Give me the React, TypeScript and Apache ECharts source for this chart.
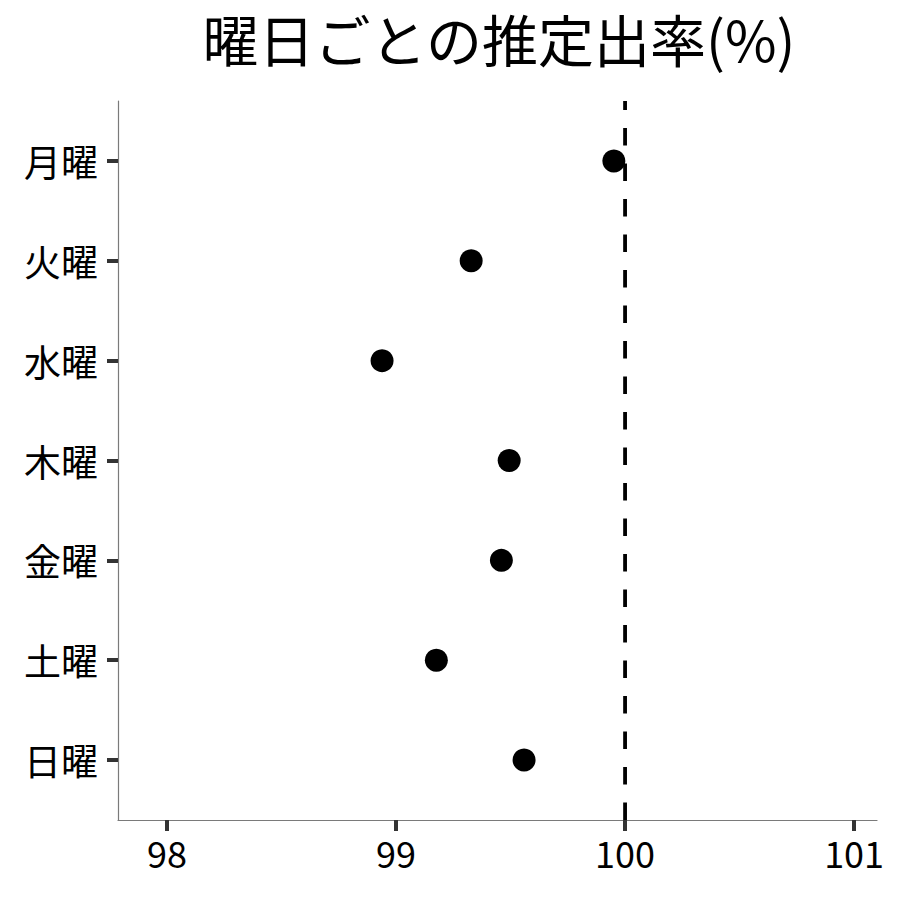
import React, { useEffect, useRef } from "react";
import * as echarts from "echarts";

const days = ["月曜", "火曜", "水曜", "木曜", "金曜", "土曜", "日曜"];
const rates = [99.951, 99.328, 98.939, 99.494, 99.46, 99.176, 99.559];
const xTicks = [98, 99, 100, 101];
const refValue = 100;
const xMin = 97.786;
const xMax = 101.1;
const yMin = 0.4;
const yMax = 7.6;

const FONT = "'Noto Sans CJK JP', 'Noto Sans', sans-serif";

export default function App() {
  const ref = useRef<HTMLDivElement>(null);
  useEffect(() => {
    document.body.style.margin = "0";
    if (!ref.current) return;
    const chart = echarts.init(ref.current, undefined, { renderer: "svg" });
    const yIdx = days.map((_, i) => i + 1);
    chart.setOption({
      animation: false,
      backgroundColor: "#ffffff",
      title: {
        text: "曜日ごとの推定出率(%)",
        left: 494,
        top: 4,
        textAlign: "center",
        textStyle: { fontFamily: FONT, fontSize: 56, fontWeight: "normal", color: "#000" },
      },
      grid: { left: 118, right: 23, top: 101, bottom: 80, containLabel: false },
      xAxis: {
        type: "value",
        min: xMin,
        max: xMax,
        splitLine: { show: false },
        axisLine: { show: true, lineStyle: { color: "#7a7a7a", width: 1.2 } },
        axisTick: {
          show: true,
          length: 11,
          lineStyle: { color: "#333333", width: 4 },
          customValues: xTicks,
        },
        axisLabel: {
          customValues: xTicks,
          margin: 14,
          fontFamily: FONT,
          fontSize: 36,
          color: "#000",
          formatter: (v: number) => String(v),
        },
      },
      yAxis: {
        type: "value",
        min: yMin,
        max: yMax,
        inverse: true,
        splitLine: { show: false },
        axisLine: { show: true, lineStyle: { color: "#7a7a7a", width: 1.2 } },
        axisTick: {
          show: true,
          length: 11,
          lineStyle: { color: "#333333", width: 4 },
          customValues: yIdx,
        },
        axisLabel: {
          customValues: yIdx,
          margin: 20,
          fontFamily: FONT,
          fontSize: 37,
          color: "#000",
          formatter: (v: number) => days[Math.round(v) - 1] ?? "",
        },
      },
      series: [
        {
          type: "line",
          data: [
            [refValue, yMax],
            [refValue, yMin],
          ],
          symbol: "none",
          lineStyle: { color: "#000", width: 3.8, type: [17.5, 18] },
          silent: true,
          z: 1,
        },
        {
          type: "scatter",
          data: rates.map((r, i) => [r, i + 1]),
          symbol: "circle",
          symbolSize: 23,
          itemStyle: { color: "#000", opacity: 1 },
          z: 3,
        },
      ],
    });
    return () => chart.dispose();
  }, []);
  return <div ref={ref} style={{ width: 900, height: 900 }} />;
}
